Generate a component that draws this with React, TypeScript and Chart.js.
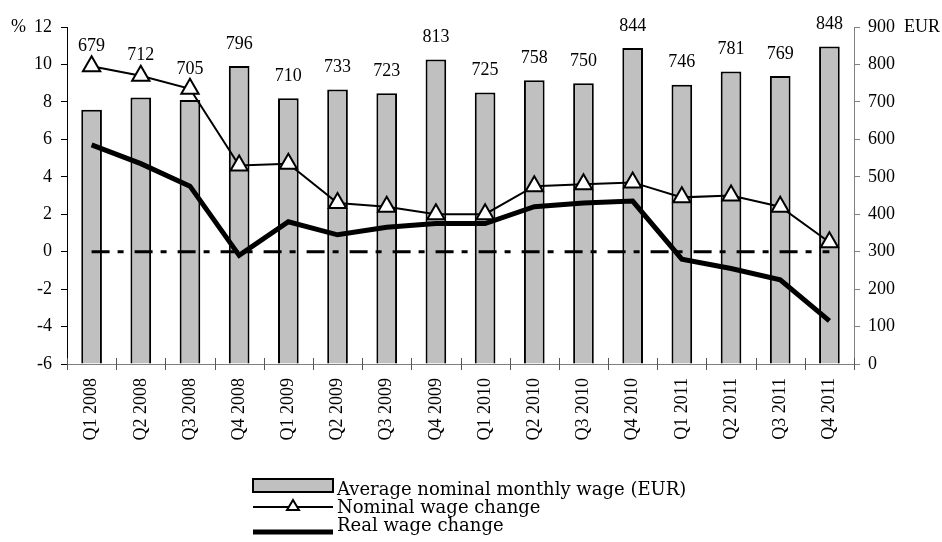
import React, { useEffect, useRef } from "react";
import { Chart, registerables } from "chart.js";

Chart.register(...registerables);

const categories = [
  "Q1 2008", "Q2 2008", "Q3 2008", "Q4 2008",
  "Q1 2009", "Q2 2009", "Q3 2009", "Q4 2009",
  "Q1 2010", "Q2 2010", "Q3 2010", "Q4 2010",
  "Q1 2011", "Q2 2011", "Q3 2011", "Q4 2011",
];
const avgWage = [679, 712, 705, 796, 710, 733, 723, 813, 725, 758, 750, 844, 746, 781, 769, 848];
const nominalChange = [9.9, 9.4, 8.7, 4.6, 4.7, 2.6, 2.4, 2.0, 2.0, 3.5, 3.6, 3.7, 2.9, 3.0, 2.4, 0.5];
const realChange = [5.7, 4.7, 3.5, -0.2, 1.6, 0.9, 1.3, 1.5, 1.5, 2.4, 2.6, 2.7, -0.4, -0.9, -1.5, -3.7];
const zeroLine = [0, 0, 0, 0, 0, 0, 0, 0, 0, 0, 0, 0, 0, 0, 0, 0];
const legendLabels = ["Average nominal monthly wage (EUR)", "Nominal wage change", "Real wage change"];

const SERIF = "'Liberation Serif', 'Times New Roman', serif";
const LEG_FONT = "'DejaVu Serif', serif";

const overlayPlugin = {
  id: "overlay",
  afterDatasetsDraw(chart: any) {
    const ctx = chart.ctx;
    const x = chart.scales.x;
    const y = chart.scales.y;
    const y1 = chart.scales.y1;
    ctx.save();
    ctx.font = `18px ${SERIF}`;
    ctx.fillStyle = "#000";
    ctx.textAlign = "center";
    ctx.textBaseline = "middle";
    avgWage.forEach((v, i) => {
      const cx = x.getPixelForValue(i);
      const barTop = y1.getPixelForValue(v);
      const markerY = y.getPixelForValue(nominalChange[i]);
      const ly = Math.min(barTop - 22, markerY - 20);
      ctx.fillText(String(v), cx, ly);
    });
    ctx.restore();
  },
  afterDraw(chart: any) {
    const ctx = chart.ctx;
    const area = chart.chartArea;
    ctx.save();
    ctx.strokeStyle = "#555";
    ctx.lineWidth = 1;
    const n = categories.length;
    const step = (area.right - area.left) / n;
    for (let i = 0; i <= n; i++) {
      const px = Math.round(area.left + i * step) + 0.5;
      ctx.beginPath();
      ctx.moveTo(px, area.bottom - 6);
      ctx.lineTo(px, area.bottom + 6);
      ctx.stroke();
    }
    ctx.font = `18px ${SERIF}`;
    ctx.fillStyle = "#000";
    ctx.textBaseline = "middle";
    ctx.textAlign = "left";
    ctx.fillText("%", 11, area.top);
    ctx.fillText("EUR", 904, area.top);

    const lx0 = 253;
    const lx1 = 333;
    ctx.fillStyle = "#c0c0c0";
    ctx.fillRect(lx0, 479, lx1 - lx0, 13);
    ctx.strokeStyle = "#000";
    ctx.lineWidth = 2;
    ctx.strokeRect(lx0, 479, lx1 - lx0, 13);
    ctx.beginPath();
    ctx.moveTo(lx0, 507);
    ctx.lineTo(lx1, 507);
    ctx.stroke();
    const tcx = 293;
    const tcy = 506;
    ctx.beginPath();
    ctx.moveTo(tcx, tcy - 6);
    ctx.lineTo(tcx + 6, tcy + 4);
    ctx.lineTo(tcx - 6, tcy + 4);
    ctx.closePath();
    ctx.fillStyle = "#fff";
    ctx.fill();
    ctx.stroke();
    ctx.lineWidth = 5;
    ctx.beginPath();
    ctx.moveTo(lx0, 532);
    ctx.lineTo(lx1, 532);
    ctx.stroke();
    ctx.fillStyle = "#000";
    ctx.font = `18px ${LEG_FONT}`;
    ctx.textAlign = "left";
    ctx.textBaseline = "alphabetic";
    ctx.fillText(legendLabels[0], 337, 495);
    ctx.fillText(legendLabels[1], 337, 513);
    ctx.fillText(legendLabels[2], 337, 531);
    ctx.restore();
  },
};

export default function App() {
  const canvasRef = useRef<HTMLCanvasElement | null>(null);

  useEffect(() => {
    if (!canvasRef.current) return;
    const chart = new Chart(canvasRef.current, {
      data: {
        labels: categories,
        datasets: [
          {
            type: "line",
            label: "zero",
            data: zeroLine,
            yAxisID: "y",
            borderColor: "#000",
            borderWidth: 3,
            borderDash: [18, 8, 6, 11],
            pointRadius: 0,
            order: 2,
          },
          {
            type: "line",
            label: legendLabels[2],
            data: realChange,
            yAxisID: "y",
            borderColor: "#000",
            borderWidth: 5,
            pointRadius: 0,
            tension: 0,
            order: 1,
          },
          {
            type: "line",
            label: legendLabels[1],
            data: nominalChange,
            yAxisID: "y",
            borderColor: "#000",
            borderWidth: 2,
            pointStyle: "triangle",
            pointRadius: 10,
            pointBackgroundColor: "#fff",
            pointBorderColor: "#000",
            pointBorderWidth: 2,
            tension: 0,
            order: 0,
          },
          {
            type: "bar",
            label: legendLabels[0],
            data: avgWage,
            yAxisID: "y1",
            backgroundColor: "#c0c0c0",
            borderColor: "#000",
            borderWidth: 2,
            barPercentage: 0.42,
            categoryPercentage: 1,
            order: 3,
          },
        ],
      },
      options: {
        responsive: false,
        animation: false,
        devicePixelRatio: 1,
        layout: { padding: { top: 27, left: 0, right: 0, bottom: 0 } },
        plugins: {
          legend: { display: false },
          tooltip: { enabled: false },
        },
        scales: {
          x: {
            offset: true,
            grid: {
              display: true,
              drawOnChartArea: false,
              drawTicks: true,
              tickLength: 6,
              color: "rgba(0,0,0,0)",
              offset: true,
            },
            border: { display: true, color: "#808080", width: 1 },
            ticks: {
              autoSkip: false,
              maxRotation: 90,
              minRotation: 90,
              padding: 8,
              color: "#000",
              font: { family: SERIF, size: 18 },
            },
            afterFit: (s: any) => {
              s.height = 178;
            },
          },
          y: {
            position: "left",
            min: -6,
            max: 12,
            ticks: {
              stepSize: 2,
              padding: 9,
              color: "#000",
              font: { family: SERIF, size: 18 },
            },
            grid: {
              drawOnChartArea: false,
              drawTicks: true,
              tickLength: 6,
              color: "#000",
            },
            border: { display: true, color: "#000", width: 1 },
            afterFit: (s: any) => {
              s.width = 67;
            },
          },
          y1: {
            position: "right",
            min: 0,
            max: 900,
            ticks: {
              stepSize: 100,
              padding: 8,
              color: "#000",
              font: { family: SERIF, size: 18 },
            },
            grid: {
              drawOnChartArea: false,
              drawTicks: true,
              tickLength: 6,
              color: "#808080",
            },
            border: { display: true, color: "#808080", width: 1 },
            afterFit: (s: any) => {
              s.width = 88;
            },
          },
        },
      },
      plugins: [overlayPlugin],
    } as any);
    return () => chart.destroy();
  }, []);

  return (
    <div style={{ position: "absolute", left: 0, top: 0, width: 942, height: 542, background: "#fff" }}>
      <canvas ref={canvasRef} width={942} height={542} />
    </div>
  );
}
